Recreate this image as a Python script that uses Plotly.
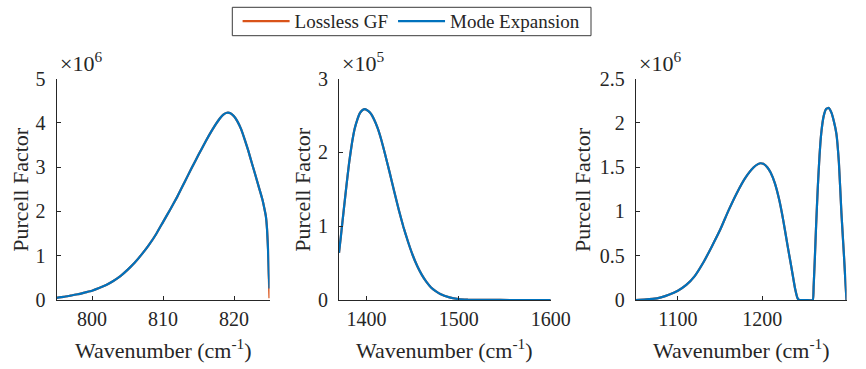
import plotly.graph_objects as go

# ---------------- data ----------------
# Panel 1 (Purcell factor in units of 1e6)
wn1 = [795, 796, 797, 798, 799, 800, 801, 802, 803, 804, 805, 806, 807, 808, 809,
       810, 811, 812, 813, 814, 815, 816, 817, 818, 818.5, 819, 819.5, 820, 820.5,
       821, 821.5, 822, 822.5, 823, 823.5, 824, 824.3, 824.5, 824.65, 824.8, 824.9, 825]
mode1 = [0.05, 0.07, 0.10, 0.13, 0.17, 0.21, 0.27, 0.34, 0.43, 0.54, 0.68, 0.84, 1.03,
         1.24, 1.48, 1.76, 2.04, 2.33, 2.65, 2.97, 3.28, 3.58, 3.86, 4.10, 4.19, 4.23,
         4.22, 4.15, 4.03, 3.86, 3.63, 3.38, 3.10, 2.83, 2.55, 2.27, 2.05, 1.88, 1.60,
         1.10, 0.60, 0.26]
lossless1 = [0.05, 0.07, 0.10, 0.13, 0.17, 0.21, 0.27, 0.34, 0.43, 0.54, 0.68, 0.84, 1.03,
             1.24, 1.48, 1.76, 2.04, 2.33, 2.65, 2.97, 3.28, 3.58, 3.86, 4.10, 4.19, 4.23,
             4.22, 4.15, 4.03, 3.86, 3.63, 3.38, 3.10, 2.83, 2.55, 2.27, 2.05, 1.88, 1.62,
             1.15, 0.55, 0.04]

# Panel 2 (Purcell factor in units of 1e5)
wn2 = [1370, 1372, 1375, 1378, 1381, 1384, 1387, 1390, 1393, 1396, 1399, 1402, 1405,
       1408, 1412, 1416, 1420, 1425, 1430, 1435, 1440, 1445, 1450, 1455, 1460, 1465,
       1470, 1475, 1480, 1490, 1500, 1510, 1530, 1560, 1600]
mode2 = [0.64, 0.86, 1.20, 1.54, 1.86, 2.12, 2.32, 2.45, 2.54, 2.58, 2.585, 2.56, 2.52,
         2.45, 2.33, 2.17, 1.98, 1.73, 1.47, 1.22, 0.99, 0.79, 0.61, 0.46, 0.34, 0.245,
         0.17, 0.12, 0.08, 0.035, 0.012, 0.004, 0.001, 0.0, 0.0]
lossless2 = list(mode2)

# Panel 3 (Purcell factor in units of 1e6)
wn3 = [1050, 1060, 1070, 1080, 1090, 1100, 1110, 1120, 1130, 1140, 1150, 1160, 1170,
       1180, 1190, 1195, 1198, 1202, 1206, 1210, 1215, 1220, 1225, 1230, 1235, 1239,
       1242, 1244, 1252, 1260, 1261, 1262.5, 1264, 1266, 1268, 1270, 1273, 1276, 1279,
       1282, 1285, 1288, 1291, 1294, 1297, 1299, 1300]
mode3 = [0.0, 0.004, 0.012, 0.03, 0.062, 0.105, 0.17, 0.27, 0.42, 0.60, 0.79, 1.01, 1.21,
         1.38, 1.50, 1.535, 1.545, 1.535, 1.50, 1.44, 1.32, 1.14, 0.90, 0.62, 0.35, 0.13,
         0.02, 0.0, 0.0, 0.0, 0.15, 0.48, 0.85, 1.28, 1.63, 1.88, 2.08, 2.16, 2.17,
         2.12, 2.02, 1.88, 1.55, 0.98, 0.50, 0.16, 0.0]
lossless3 = list(mode3)

panels = [
    dict(x=wn1, mode=mode1, loss=lossless1, scale=1e6, xr=[795, 825],
         xt=[800, 810, 820], yr=[0, 5], yt=[0, 1, 2, 3, 4, 5],
         ytxt=["0", "1", "2", "3", "4", "5"], exp="6"),
    dict(x=wn2, mode=mode2, loss=lossless2, scale=1e5, xr=[1370, 1600],
         xt=[1400, 1500, 1600], yr=[0, 3], yt=[0, 1, 2, 3],
         ytxt=["0", "1", "2", "3"], exp="5"),
    dict(x=wn3, mode=mode3, loss=lossless3, scale=1e6, xr=[1050, 1300],
         xt=[1100, 1200, 1300], yr=[0, 2.5], yt=[0, 0.5, 1, 1.5, 2, 2.5],
         ytxt=["0", "0.5", "1", "1.5", "2", "2.5"], exp="6"),
]

series_names = ["Lossless GF", "Mode Expansion"]
colors = ["#D95319", "#0072BD"]

# ---------------- layout geometry ----------------
W, H = 866, 369
x_dom_px = [(56.5, 269.5), (339, 550.7), (635.7, 846.5)]
y_top_px, y_bot_px = 78.7, 300
title_off_px = [36, 36.5, 53]
TXT = "#262626"
FONT = "Liberation Serif"

fig = go.Figure()
layout = dict(
    width=W, height=H,
    margin=dict(l=0, r=0, t=0, b=0),
    paper_bgcolor="white", plot_bgcolor="white",
    font=dict(family=FONT, color=TXT, size=20),
    showlegend=True,
    legend=dict(orientation="h", x=411.6 / W, xanchor="center",
                y=1 - 2.2 / H, yanchor="top",
                borderwidth=0, bgcolor="rgba(0,0,0,0)",
                font=dict(family=FONT, size=19, color=TXT),
                itemwidth=47),
    shapes=[dict(type="rect", xref="paper", yref="paper",
                 x0=232.3 / W, x1=591 / W, y0=1 - 35.7 / H, y1=1 - 7.3 / H,
                 line=dict(color="#3a3a3a", width=1), fillcolor="white", layer="below")],
)
annotations = []
ydom = [1 - y_bot_px / H, 1 - y_top_px / H]

for i, p in enumerate(panels):
    n = "" if i == 0 else str(i + 1)
    xa, ya = "x" + n, "y" + n
    for k, (vals, name) in enumerate([(p["loss"], series_names[0]), (p["mode"], series_names[1])]):
        fig.add_trace(go.Scatter(
            x=p["x"], y=[v * p["scale"] for v in vals], mode="lines",
            line=dict(color=colors[k], width=2.2, shape="spline", smoothing=0.4),
            name=name, showlegend=(i == 0), xaxis=xa, yaxis=ya, hoverinfo="skip"))
    x0, x1 = x_dom_px[i]
    layout["xaxis" + n] = dict(
        domain=[x0 / W, x1 / W], range=p["xr"], anchor=ya,
        showline=True, linecolor=TXT, linewidth=1, mirror=False,
        ticks="inside", ticklen=4, tickcolor=TXT, tickwidth=1,
        tickvals=p["xt"], showgrid=False, zeroline=False, ticklabelstandoff=1,
        tickfont=dict(family=FONT, size=20, color=TXT), automargin=False)
    layout["yaxis" + n] = dict(
        domain=ydom, range=[v * p["scale"] for v in p["yr"]], anchor=xa,
        showline=True, linecolor=TXT, linewidth=1, mirror=False,
        ticks="inside", ticklen=4, tickcolor=TXT, tickwidth=1,
        tickvals=[v * p["scale"] for v in p["yt"]], ticktext=p["ytxt"],
        showgrid=False, zeroline=False, ticklabelstandoff=6,
        tickfont=dict(family=FONT, size=20, color=TXT), automargin=False)
    # axis titles
    annotations.append(dict(
        text="Purcell Factor", x=(x0 - title_off_px[i]) / W, y=(ydom[0] + ydom[1]) / 2,
        xref="paper", yref="paper", textangle=-90, showarrow=False,
        xanchor="center", yanchor="middle", font=dict(family=FONT, size=22, color=TXT)))
    annotations.append(dict(
        text="Wavenumber (cm<sup>-1</sup>)", x=(x0 + x1) / 2 / W, y=1 - 333 / H,
        xref="paper", yref="paper", showarrow=False,
        xanchor="center", yanchor="top", font=dict(family=FONT, size=22, color=TXT)))
    annotations.append(dict(
        text="\u00d710<sup>" + p["exp"] + "</sup>", x=(x0 + 1) / W, y=1 - 78 / H,
        xref="paper", yref="paper", showarrow=False,
        xanchor="left", yanchor="bottom", font=dict(family=FONT, size=22, color=TXT)))

layout["annotations"] = annotations
fig.update_layout(**layout)
fig.write_html("out.html", config={"displayModeBar": False},
               post_script="document.body.style.margin='0px';")
